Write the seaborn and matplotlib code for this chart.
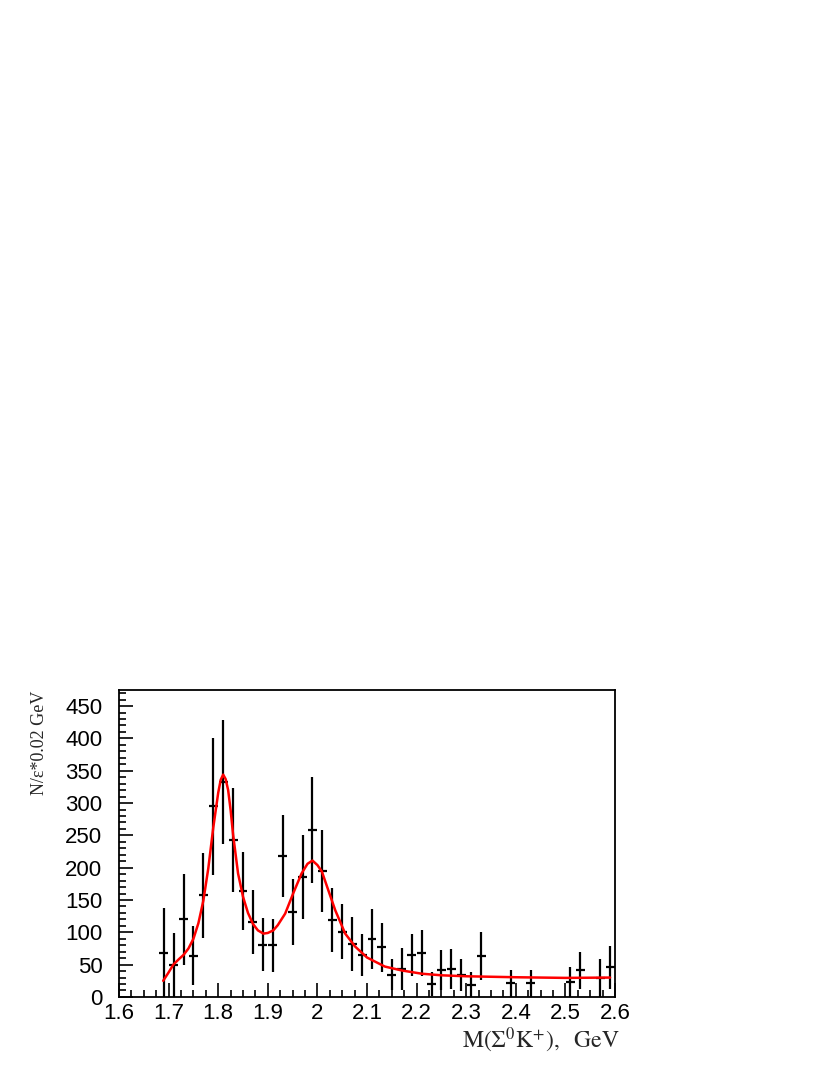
import pandas as pd
import seaborn as sns
import matplotlib.pyplot as plt
from matplotlib.ticker import MultipleLocator, FuncFormatter

# measured points (bin centres, GeV), yields and errors
mass = [1.69, 1.71, 1.73, 1.75, 1.77, 1.79, 1.81, 1.83, 1.85, 1.87,
        1.89, 1.91, 1.93, 1.95, 1.97, 1.99, 2.01, 2.03, 2.05, 2.07,
        2.09, 2.11, 2.13, 2.15, 2.17, 2.19, 2.21, 2.23, 2.25, 2.27,
        2.29, 2.31, 2.33, 2.39, 2.43, 2.51, 2.53, 2.57, 2.59]
counts = [68, 49, 120, 64, 157, 295, 333, 243, 164, 116,
          81, 80, 218, 131, 186, 258, 195, 119, 101, 82,
          65, 90, 77, 34, 43, 65, 68, 20, 42, 43,
          34, 19, 64, 21, 21, 23, 41, 29, 46]
errors = [70, 50, 70, 46, 66, 106, 96, 81, 60, 49,
          41, 41, 64, 51, 65, 82, 64, 50, 43, 42,
          33, 46, 38, 24, 32, 33, 35, 18, 31, 31,
          25, 19, 37, 21, 21, 23, 29, 29, 33]

# fit curve
fit_mass = [1.689, 1.70, 1.7095, 1.72, 1.73, 1.74, 1.75, 1.76, 1.77, 1.78,
            1.79, 1.80, 1.805, 1.81, 1.815, 1.82, 1.825, 1.83, 1.84, 1.85,
            1.86, 1.87, 1.88, 1.891, 1.90, 1.911, 1.92, 1.935, 1.951, 1.968,
            1.98, 1.99, 2.00, 2.009, 2.022, 2.036, 2.056, 2.076, 2.10, 2.136,
            2.17, 2.21, 2.25, 2.30, 2.40, 2.50, 2.59]
fit_value = [25, 38, 50, 58, 65, 75, 90, 114, 149, 199,
             262, 316, 336, 344, 337, 320, 289, 251, 191, 155,
             130, 113, 103, 98, 99, 103, 111, 129, 160, 191,
             206, 211, 204, 194, 165, 134, 98, 78, 61, 47,
             41, 36, 33.5, 32, 30.5, 29.5, 30]

df = pd.DataFrame({"mass": mass, "counts": counts, "err": errors})
fit = pd.DataFrame({"mass": fit_mass, "value": fit_value})

sns.set_style("white")
plt.rcParams["font.family"] = ["Liberation Sans", "DejaVu Sans"]
plt.rcParams["mathtext.fontset"] = "stix"

fig = plt.figure(figsize=(8.3, 10.75), dpi=100)
ax = fig.add_axes([0.1434, 0.0726, 0.5976, 0.2856])

ax.errorbar(df["mass"], df["counts"], yerr=df["err"], xerr=0.009,
            fmt="none", ecolor="black", elinewidth=1.6, capsize=0, zorder=2)
sns.lineplot(data=fit, x="mass", y="value", color="red", linewidth=1.8,
             estimator=None, ax=ax, zorder=3)

ax.set_xlim(1.6, 2.6)
ax.set_ylim(0, 475)
ax.xaxis.set_major_locator(MultipleLocator(0.1))
ax.xaxis.set_minor_locator(MultipleLocator(0.025))
ax.yaxis.set_major_locator(MultipleLocator(50))
ax.yaxis.set_minor_locator(MultipleLocator(10))
ax.xaxis.set_major_formatter(FuncFormatter(lambda v, p: f"{v:g}"))

ax.tick_params(which="both", direction="in", top=False, right=False,
               bottom=True, left=True, width=1.2, colors="black")
ax.tick_params(which="major", length=10, labelsize=16)
ax.tick_params(which="minor", length=5)
ax.tick_params(axis="x", which="major", pad=4)
ax.tick_params(axis="y", which="major", pad=12)

for s in ax.spines.values():
    s.set_color("black")
    s.set_linewidth(1.3)

ax.set_xlabel("")
ax.set_ylabel("")
fig.text(0.047, 1 - 691 / 1075, "N/ε*0.02 GeV", rotation=90, ha="center",
         va="top", family=["Liberation Serif"], size=13)
fig.text(620 / 830, 1 - 1040 / 1075, r"$\mathrm{M(\Sigma^{0}K^{+}),\ \ GeV}$",
         ha="right", va="center", size=17)

fig.savefig("out.png", dpi=100)
